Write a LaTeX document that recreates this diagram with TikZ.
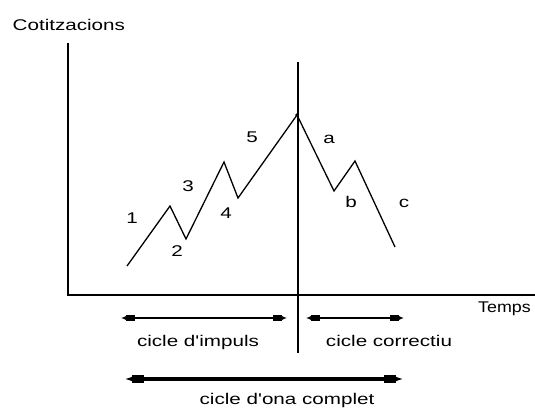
\documentclass[tikz,border=0pt]{standalone}
\usepackage{fontspec}
\setmainfont{Liberation Sans}
\usetikzlibrary{arrows.meta}
\newcommand{\stretchtxt}[1]{\scalebox{1.33}[1]{#1}}
\newcommand{\apos}{\textquotesingle}
\tikzset{
  lbl/.style={font=\fontsize{15.5}{18}\selectfont, inner sep=0pt},
  axis/.style={line width=1.5pt},
  wave/.style={line width=1.3pt, line join=miter},
  span/.style={line width=2.3pt,
    {Latex[length=5pt,width=4pt]Rectangle[length=9pt,width=6.5pt]}-{Rectangle[length=9pt,width=6.5pt]Latex[length=5pt,width=4pt]}},
  bigspan/.style={line width=3.2pt,
    {Latex[length=8pt,width=4.5pt]Rectangle[length=12pt,width=8pt]}-{Rectangle[length=12pt,width=8pt]Latex[length=8pt,width=4.5pt]}},
}
\begin{document}
\begin{tikzpicture}[x=1pt,y=-1pt]
\useasboundingbox[fill=white] (0,0) rectangle (535,407);
% axes
\coordinate (ytop) at (68,43);
\coordinate (orig) at (68,295);
\coordinate (xend) at (540,295);
\draw[axis] (ytop) -- (orig) -- (xend);
\coordinate (vtop) at (298,62);
\coordinate (vbot) at (298,353);
\draw[axis] (vtop) -- (vbot);
% wave
\coordinate (w0) at (127,266);
\coordinate (w1) at (170,206);
\coordinate (w2) at (186,239);
\coordinate (w3) at (224,162);
\coordinate (w4) at (238,198);
\coordinate (w5) at (297,115);
\coordinate (wa) at (334,191);
\coordinate (wb) at (355,161);
\coordinate (wc) at (395,247);
\draw[wave] (w0) -- (w1) -- (w2) -- (w3) -- (w4) -- (w5) -- (wa) -- (wb) -- (wc);
\fill (w5) circle (1.8pt);
% wave labels
\node[lbl] (l1) at (132,218) {\stretchtxt{1}};
\node[lbl] (l2) at (177,251) {\stretchtxt{2}};
\node[lbl] (l3) at (188,186) {\stretchtxt{3}};
\node[lbl] (l4) at (226,213) {\stretchtxt{4}};
\node[lbl] (l5) at (252,137) {\stretchtxt{5}};
\node[lbl] (la) at (329,139) {\stretchtxt{a}};
\node[lbl] (lb) at (351,202) {\stretchtxt{b}};
\node[lbl] (lc) at (404,203) {\stretchtxt{c}};
% axis labels
\node[lbl, anchor=base west] (ylab) at (12.5,30.5) {\stretchtxt{Cotitzacions}};
\node[lbl, anchor=base west] (xlab) at (478,312) {\scalebox{1.15}[1]{Temps}};
% spans
\coordinate (i1) at (121,318);
\coordinate (i2) at (287,318);
\draw[span] (i1) -- (i2);
\coordinate (c1) at (306,318);
\coordinate (c2) at (404,318);
\draw[span] (c1) -- (c2);
\coordinate (o1) at (124,379);
\coordinate (o2) at (404,379);
\draw[bigspan] (o1) -- (o2);
\node[lbl, anchor=base] (imp) at (198,346) {\stretchtxt{cicle d\apos impuls}};
\node[lbl, anchor=base] (cor) at (389,346) {\stretchtxt{cicle correctiu}};
\node[lbl, anchor=base] (com) at (287,404) {\stretchtxt{cicle d\apos ona complet}};
\end{tikzpicture}
\end{document}
